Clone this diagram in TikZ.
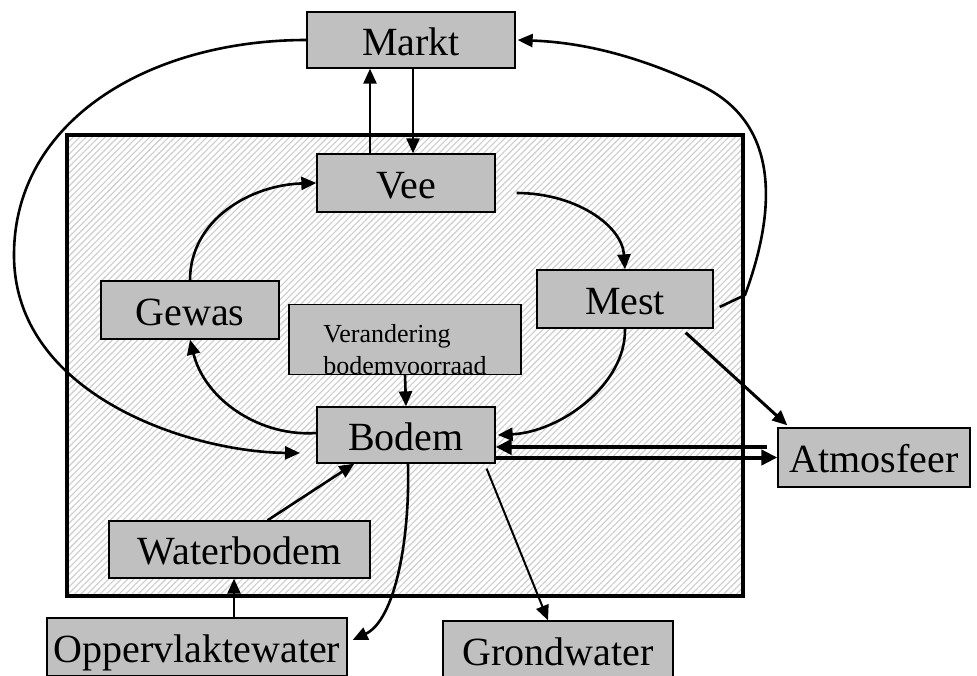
\documentclass[tikz,border=0pt]{standalone}
\usepackage{fontspec}
\setmainfont{Liberation Serif}
\usepackage{tikz}
\usetikzlibrary{
  arrows.meta,
  calc,
  patterns.meta
}
\definecolor{boxfill}{RGB}{192, 192, 192}
\definecolor{hatchcolor}{RGB}{205, 205, 205}
\tikzset{
blocktext/.style={
  font=\fontsize{40}{48}\selectfont,
  text=black,
  text height=30pt,
  text depth=0pt
},
block/.style={
  draw=black,
  line width=1.3pt,
  fill=boxfill,
  inner sep=0pt,
  minimum height=58pt,
  blocktext
},
smallblock/.style={
  block,
  font=\fontsize{26}{32}\selectfont,
  align=left
},
frame/.style={
  draw=black,
  line width=3.5pt,
  pattern={Lines[angle=45,distance=4.5pt,line width=1.1pt]},
  pattern color=hatchcolor
},
arrow/.style={
  -{Triangle[length=15pt,width=13pt]},
  line width=2.6pt
},
thinarrow/.style={
  arrow,
  line width=2pt
},
thickarrow/.style={
  -{Triangle[length=16pt,width=15pt]},
  line width=4pt
}
}
\begin{document}
\begin{tikzpicture}[x=1pt, y=-1pt]
  \fill[white] (0,0) rectangle (977,675);
  \useasboundingbox (0,0) rectangle (977,675);
  % farm boundary
  \draw[frame] (67,135) rectangle (743,596);

  % blocks
  \node[block, minimum width=208pt, minimum height=56pt] (markt) at (411,40) {Markt};
  \node[block, minimum width=178pt] (vee) at (406,183) {Vee};
  \node[block, minimum width=178pt] (gewas) at (190,310) {Gewas};
  \node[block, minimum width=176pt] (mest) at (625,299) {Mest};
  \node[smallblock, minimum width=232pt, minimum height=65pt, text height=69.5pt, text depth=-4.5pt] (verand) at (405,339.5) {Verandering\\bodemvoorraad};
  \node[block, minimum width=178pt, minimum height=56pt] (bodem) at (406,435) {Bodem};
  \node[block, minimum width=192pt, minimum height=59pt] (atmos) at (874,457.5) {Atmosfeer};
  \node[block, minimum width=261pt, minimum height=57pt] (waterbodem) at (239.5,549.5) {Waterbodem};
  \node[block, minimum width=300pt] (opp) at (197,647) {Oppervlaktewater};
  \node[block, minimum width=230pt] (grond) at (558,650) {Grondwater};

  \coordinate (bodemin) at (300,453);

  % flows inside the farm
  \draw[arrow] (gewas.north) .. controls (190,220) and (250,185) .. (vee.west);
  \draw[arrow] ([shift={(21,10)}]vee.east) .. controls (575,193) and (622,225) .. (mest.north);
  \draw[arrow] (mest.south) .. controls (626,385) and (560,432) .. ([xshift=2]bodem.east);
  \draw[arrow] ([yshift=2]bodem.west) .. controls (260,437) and (205,400) .. (gewas.south);
  \draw[arrow] (verand.south) -- (bodem.north);
  \draw[arrow] ([xshift=28]waterbodem.north) -- ([xshift=38]bodem.south west);

  % market
  \draw[arrow] ([xshift=-36]vee.north) -- ([xshift=-36]vee.north |- markt.south);
  \draw[arrow] ([xshift=2]markt.south) -- ([xshift=2]markt.south |- vee.north);
  \draw[arrow] (markt.west) .. controls (150,40) and (14,120) .. (14,255)
    .. controls (14,395) and (190,452) .. (bodemin);
  \draw[arrow] ([shift={(6,8)}]mest.east) -- (745,295)
    .. controls (780,200) and (775,120) .. (700,85)
    .. controls (625,50) and (570,42) .. ([xshift=2]markt.east);

  % losses to the environment
  \draw[arrow, line width=3pt] ([shift={(-28,4)}]mest.south east) -- ([shift={(10,-2)}]atmos.north west);
  \draw[thickarrow] ($(atmos.west)+(-10,-10.5)$) -- ($(bodem.east)+(0,12)$);
  \draw[thickarrow] ($(bodem.east)+(0,22.5)$) -- (atmos.west);
  \draw[thinarrow] ([shift={(-9,5)}]bodem.south east) -- ([xshift=-10]grond.north);
  \draw[arrow] ([xshift=2]bodem.south) .. controls (410,540) and (395,620) .. ([shift={(5,-7)}]opp.east);
  \draw[arrow] ([xshift=37]opp.north) -- ([xshift=37]opp.north |- waterbodem.south);
\end{tikzpicture}
\end{document}
